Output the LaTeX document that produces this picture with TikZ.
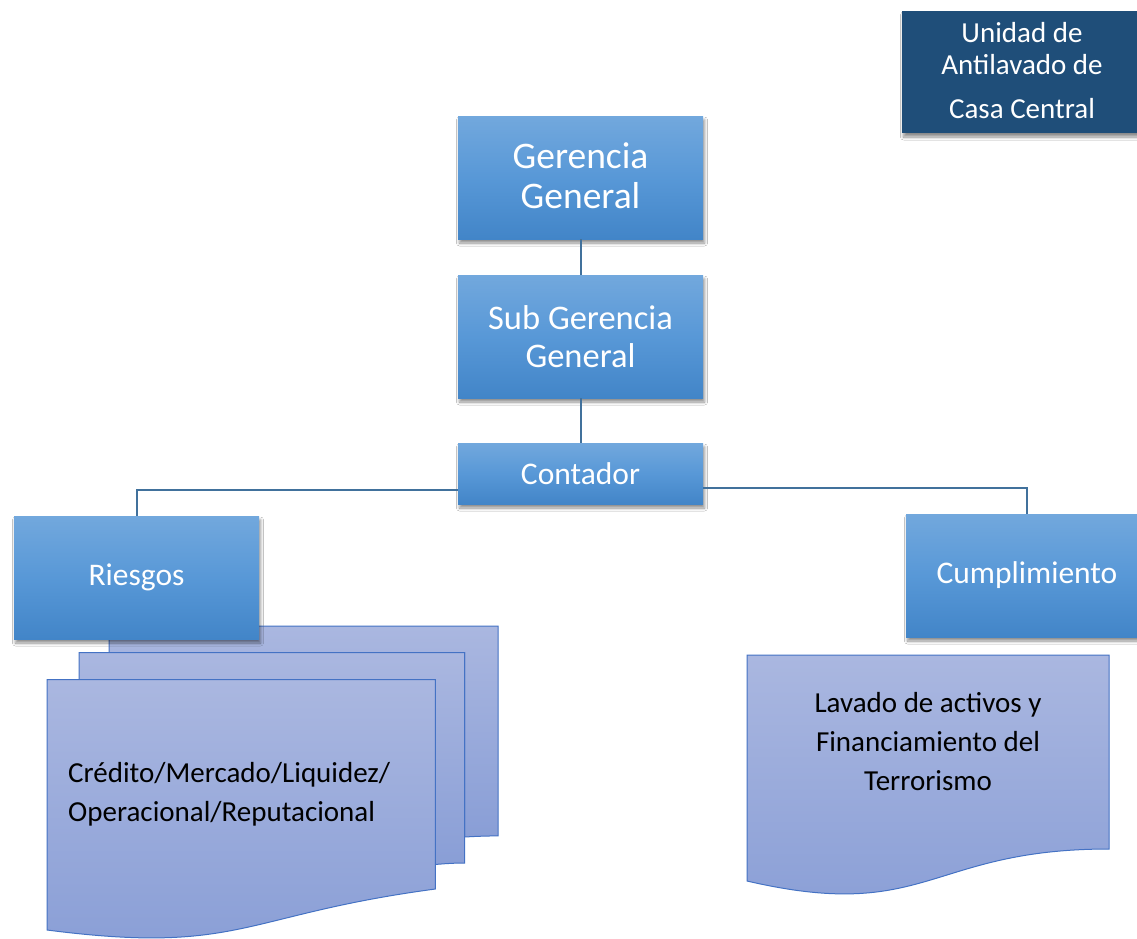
\documentclass[tikz,border=0pt]{standalone}
\usepackage{fontspec}
\setmainfont{Carlito}
\usetikzlibrary{shadows.blur}
\definecolor{boxtop}{RGB}{114,168,221}
\definecolor{boxmid}{RGB}{88,152,215}
\definecolor{boxbot}{RGB}{66,133,200}
\definecolor{darkbox}{RGB}{31,78,121}
\definecolor{conn}{RGB}{65,113,156}
\definecolor{doctop}{RGB}{170,183,224}
\definecolor{docbot}{RGB}{137,158,214}
\definecolor{docline}{RGB}{68,114,196}
\tikzset{
  softshadow/.style={blur shadow={shadow xshift=1.5pt, shadow yshift=-4pt, shadow blur steps=6, shadow blur radius=3pt, shadow opacity=45}},
  orgbox/.style={rectangle, draw=none, top color=boxtop, bottom color=boxbot, middle color=boxmid,
    text=white, align=center, inner sep=0pt, softshadow},
  toptxt/.style={font=\fontsize{37.5}{40}\selectfont},
  bigtxt/.style={font=\fontsize{34.5}{38}\selectfont},
  midtxt/.style={font=\fontsize{31.5}{38}\selectfont},
  doctxt/.style={font=\fontsize{29}{39}\selectfont, text=black, inner sep=0pt},
  docshape/.style={draw=docline, line width=1pt, top color=doctop, bottom color=docbot},
  link/.style={draw=conn, line width=2pt}
}
\begin{document}
\begin{tikzpicture}[x=1pt,y=-1pt]
\clip (0,0) rectangle (1137,938);
\fill[white] (0,0) rectangle (1137,938);

% multidocument, back page
\path[docshape] (109.1,652.5) -- (109.1,626) -- (498,626) -- (498,835.9)
  .. controls (481.3,835.9) and (464.6,837.0) .. (464.6,837.0) -- (464.6,652.5) -- cycle;
% middle page
\path[docshape] (79,679.6) -- (79,652.5) -- (464.6,652.5) -- (464.6,863.0)
  .. controls (449.9,863.0) and (435.3,864.5) .. (435.3,864.5) -- (435.3,679.6) -- cycle;
% front page
\path[docshape] (47,930) .. controls (241.1,955) and (241.1,915) .. (435.3,889)
  -- (435.3,679.6) -- (47,679.6) -- cycle;
\node[doctxt, align=left, anchor=west] (riesdoc) at (68,794)
  {Crédito/Mercado/Liquidez/\\Operacional/Reputacional};

% single document
\path[docshape] (747,655) -- (1109,655) -- (1109,849)
  .. controls (928,849) and (928,923) .. (747,881) -- cycle;
\node[doctxt, align=center] (cumpdoc) at (928,742)
  {Lavado de activos y\\Financiamiento del\\Terrorismo};

% boxes
\node[orgbox, minimum width=245pt, minimum height=123pt] (ger) at (580.5,177.5) {};
\node[text=white, align=center, inner sep=0pt, toptxt] (gertxt) at (580.5,176) {Gerencia\\General};
\node[orgbox, bigtxt, minimum width=245pt, minimum height=123pt] (sub) at (580.5,336.5) {Sub Gerencia\\General};
\node[orgbox, midtxt, minimum width=245pt, minimum height=61pt] (cont) at (580.5,473.5) {Contador};
\node[orgbox, midtxt, minimum width=245pt, minimum height=123pt] (ries) at (136.5,577.5) {Riesgos};
\node[orgbox, midtxt, minimum width=242pt, minimum height=123pt] (cump) at (1027,575.5) {Cumplimiento};

\node[rectangle, fill=darkbox, minimum width=240pt, minimum height=122pt, softshadow]
  (unibox) at (1022,72) {};
\node[text=white, align=center, anchor=north, inner sep=0pt,
  font=\fontsize{29}{32}\selectfont] (unitxt) at (1022,22) {Unidad de\\Antilavado de\\[12pt]Casa Central};

% connectors
\draw[link] (ger.south) -- (sub.north);
\draw[link] (sub.south) -- (cont.north);
\draw[link] ([yshift=-16pt]cont.west) -| (ries.north);
\draw[link] ([yshift=-14.5pt]cont.east) -| (cump.north);
\end{tikzpicture}
\end{document}
